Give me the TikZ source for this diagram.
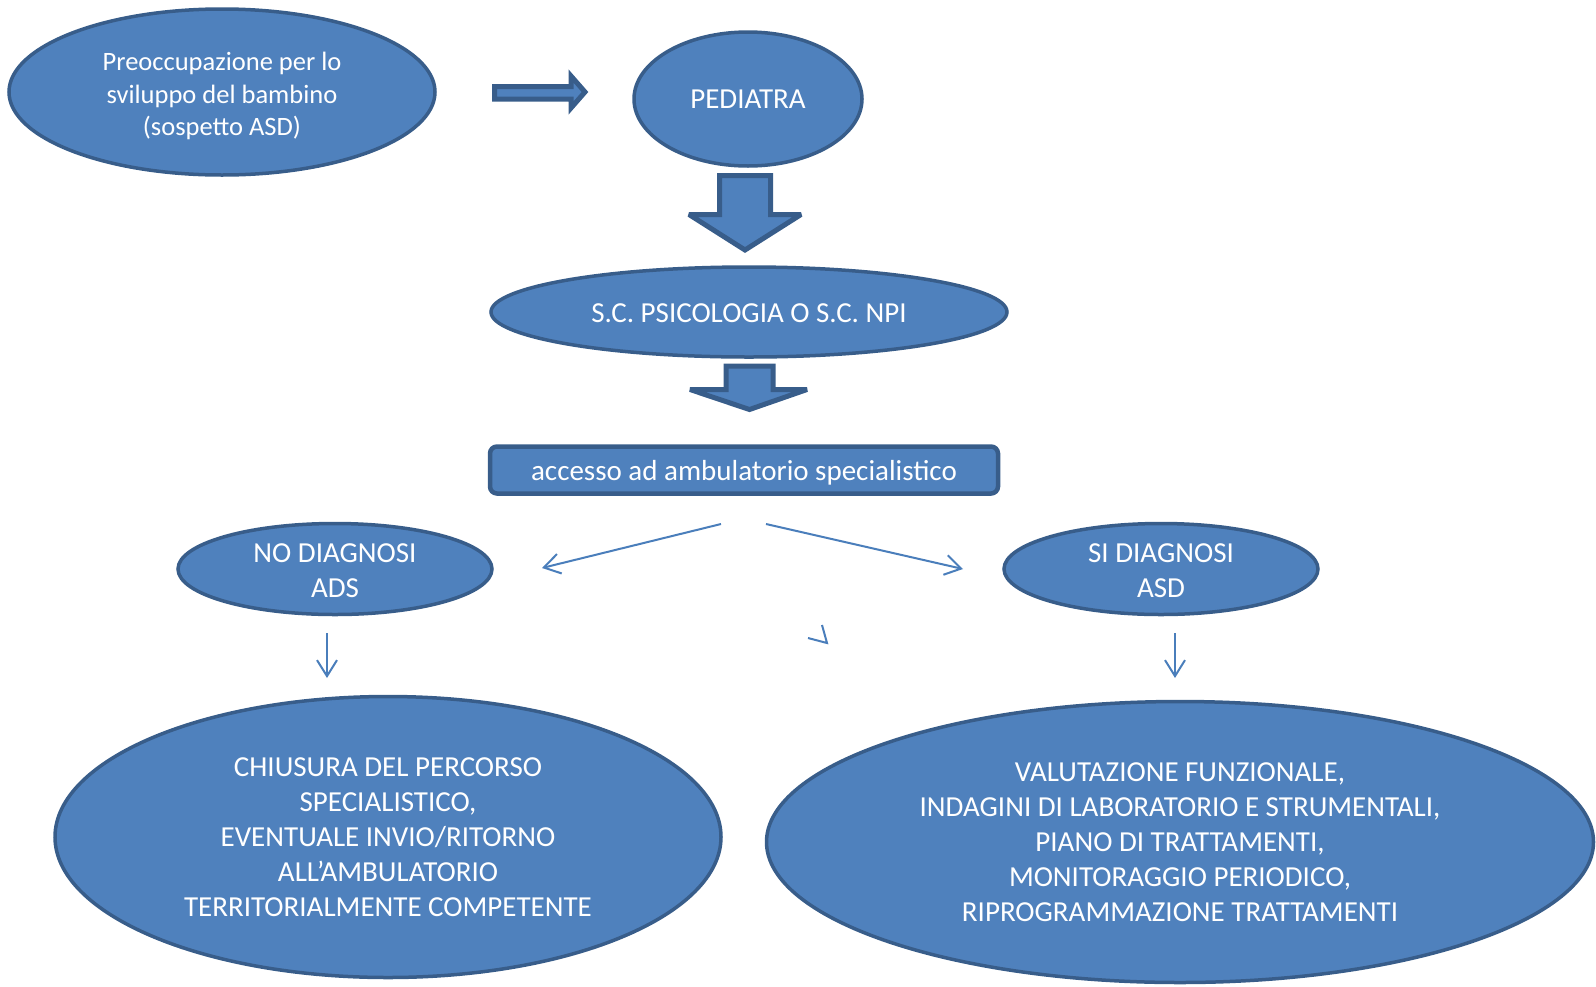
\documentclass[tikz,border=0pt]{standalone}
\usepackage{fontspec}
\setmainfont{Carlito}
\usepackage{tikz}
\usetikzlibrary{shapes.geometric,arrows.meta}

\definecolor{boxfill}{RGB}{79,129,189}
\definecolor{boxline}{RGB}{56,93,138}
\definecolor{thinline}{RGB}{74,126,187}

\tikzset{
  bubble/.style={ellipse, draw=boxline, fill=boxfill, line width=3.5pt,
    inner sep=0pt, text=white, align=center,
    font=\fontsize{29}{35}\selectfont},
  panel/.style={rectangle, rounded corners=7pt, draw=boxline, fill=boxfill,
    line width=4.5pt, inner sep=0pt, text=white,
    font=\fontsize{29}{35}\selectfont},
  blockarrow/.style={draw=boxline, fill=boxfill, line width=5pt,
    line join=miter, miter limit=3},
  thinarrow/.style={draw=thinline, line width=2pt,
    -{Straight Barb[length=16pt,width=20pt,line width=2pt]}}
}

\begin{document}
\begin{tikzpicture}[x=1pt, y=-1pt]
  \useasboundingbox (0,0) rectangle (1596,986);

  \node[bubble, minimum width=426, minimum height=166,
    font=\fontsize{26.5}{32.5}\selectfont] (worry) at (222,92)
    {\rule{0pt}{27pt}Preoccupazione per lo\\sviluppo del bambino\\(sospetto ASD)};
  \node[bubble, minimum width=228, minimum height=134] (pediatra) at (748,99) {PEDIATRA};
  \node[bubble, minimum width=516, minimum height=90] (psico) at (749,312)
    {\rule{0pt}{21pt}S.C. PSICOLOGIA O S.C. NPI};
  \node[panel, minimum width=508, minimum height=47] (access) at (744,470)
    {\rule{0pt}{26pt}accesso ad ambulatorio specialistico};
  \node[bubble, minimum width=314, minimum height=91] (nodiag) at (335,569)
    {\rule{0pt}{22.5pt}NO DIAGNOSI\\ADS};
  \node[bubble, minimum width=314, minimum height=91] (sidiag) at (1161,569)
    {\rule{0pt}{22.5pt}SI DIAGNOSI\\ASD};
  \node[bubble, minimum width=666, minimum height=281] (closing) at (388,837)
    {CHIUSURA DEL PERCORSO\\SPECIALISTICO,\\EVENTUALE INVIO/RITORNO\\ALL’AMBULATORIO\\TERRITORIALMENTE COMPETENTE};
  \node[bubble, minimum width=827, minimum height=281] (assess) at (1180,842)
    {VALUTAZIONE FUNZIONALE,\\INDAGINI DI LABORATORIO E STRUMENTALI,\\PIANO DI TRATTAMENTI,\\MONITORAGGIO PERIODICO,\\RIPROGRAMMAZIONE TRATTAMENTI};

  % block arrows
  \draw[blockarrow] (494.5,86.5) -- (571,86.5) -- (571,76) -- (585,92)
    -- (571,108) -- (571,99) -- (494.5,99) -- cycle;
  \draw[blockarrow] (719.5,175.5) -- (770.5,175.5) -- (770.5,214.5) -- (801,214.5)
    -- (745,250) -- (689,214.5) -- (719.5,214.5) -- cycle;
  \draw[blockarrow] (726,366) -- (773,366) -- (773,389.5) -- (807,389.5)
    -- (749.5,409.5) -- (690,389.5) -- (726,389.5) -- cycle;

  % thin arrows
  \coordinate (splitL) at (721,524);
  \coordinate (endL) at (542,568);
  \coordinate (splitR) at (766,524);
  \coordinate (endR) at (963,569);
  \coordinate (noTop) at (327,633);
  \coordinate (noEnd) at (327,678);
  \coordinate (siTop) at (1175,633);
  \coordinate (siEnd) at (1175,678);
  \draw[thinarrow] (splitL) -- (endL);
  \draw[thinarrow] (splitR) -- (endR);
  \draw[thinarrow] (noTop) -- (noEnd);
  \draw[thinarrow] (siTop) -- (siEnd);
  \draw[draw=thinline, line width=2pt] (822,625) -- (827,643) -- (808,638);
\end{tikzpicture}
\end{document}
